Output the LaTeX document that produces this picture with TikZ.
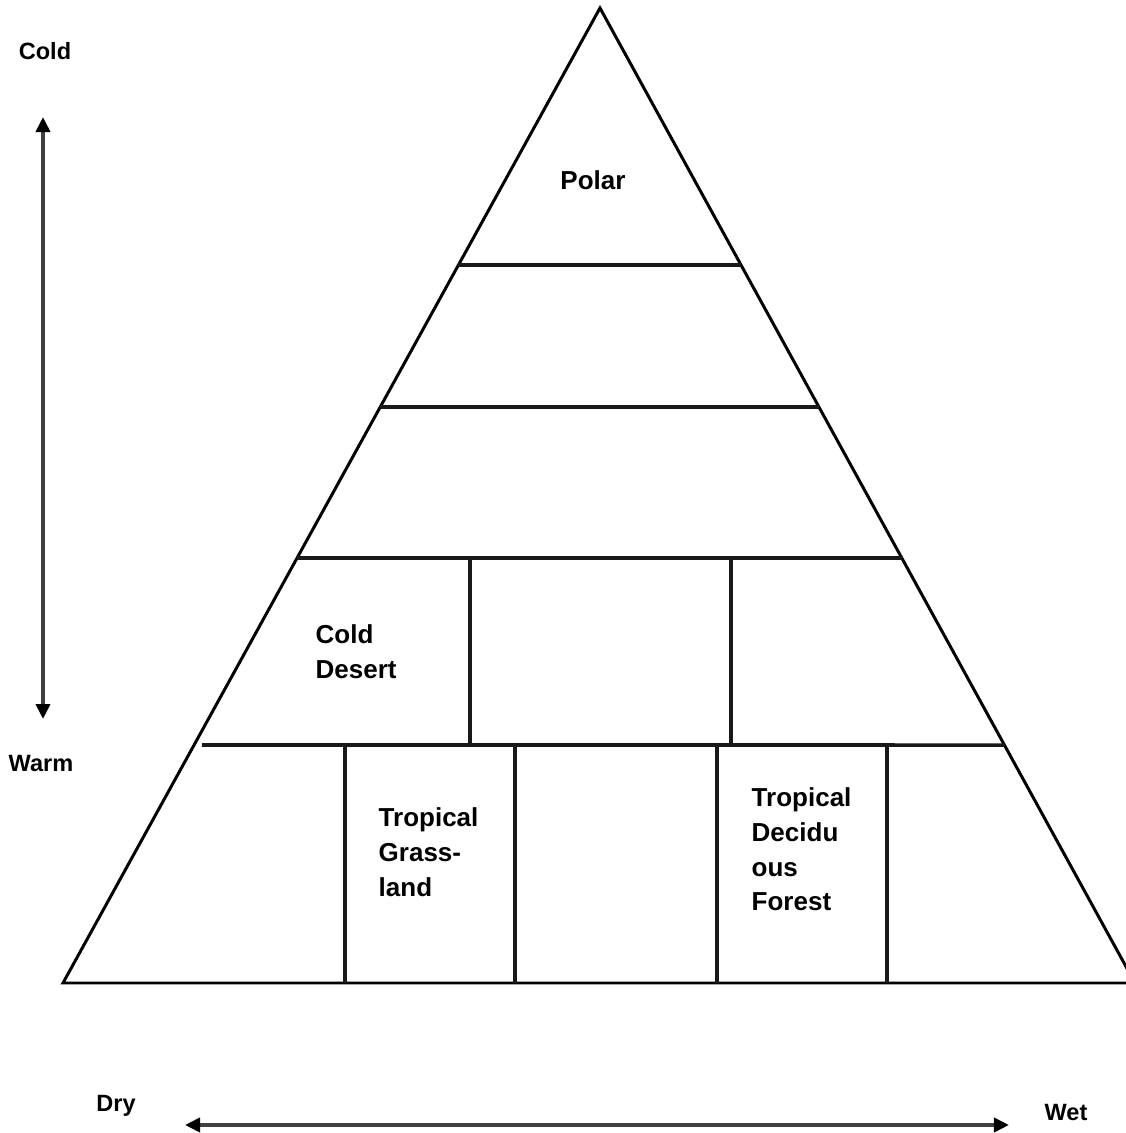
\documentclass[tikz,border=0pt]{standalone}
\usepackage{fontspec}
\setmainfont{Liberation Sans}
\usepackage{tikz}
\usetikzlibrary{calc,arrows.meta}

\begin{document}
\begin{tikzpicture}[line join=miter,
		edge/.style={line width=0.85pt},
		bar/.style={line width=1pt, color=black!90},
		axis/.style={line width=1.1pt, color=black!75, {Triangle[length=1.5mm,width=1.4mm,color=black]}-{Triangle[length=1.5mm,width=1.4mm,color=black]}},
		biome/.style={font=\fontsize{7.4}{9.9}\selectfont\bfseries, align=left, inner sep=0pt},
		axislabel/.style={font=\fontsize{6.7}{8}\selectfont\bfseries, inner sep=0pt}]
	\useasboundingbox (0,0) rectangle (11.26,11.33);

	\coordinate (T) at (6.00,11.25);
	\coordinate (L) at (0.63,1.50);
	\coordinate (R) at (11.35,1.50);

	\coordinate (L1) at ($(T)!0.2636!(L)$);
	\coordinate (R1) at ($(T)!0.2636!(R)$);
	\coordinate (L2) at ($(T)!0.4092!(L)$);
	\coordinate (R2) at ($(T)!0.4092!(R)$);
	\coordinate (L3) at ($(T)!0.5641!(L)$);
	\coordinate (R3) at ($(T)!0.5641!(R)$);
	\coordinate (L4) at (2.02,3.88);
	\coordinate (R4) at ($(T)!0.7559!(R)$);

	\draw[edge] (T) -- (L) -- (R) -- cycle;
	\draw[bar] (L1) -- (R1);
	\draw[bar] (L2) -- (R2);
	\draw[bar] (L3) -- (R3);
	\draw[bar] (L4) -- (R4);

	\foreach \x in {4.70,7.31}
		\draw[bar] (\x,5.75) -- (\x,3.88);
	\foreach \x in {3.45,5.15,7.17,8.87}
		\draw[bar] (\x,3.88) -- (\x,1.50);

	\coordinate (Up) at (0.43,10.16);
	\coordinate (Down) at (0.43,4.14);
	\coordinate (Left) at (1.85,0.08);
	\coordinate (Right) at (10.09,0.08);
	\draw[axis] (Down) -- (Up);
	\draw[axis] (Left) -- (Right);

	\node[axislabel] (cold) at (0.45,10.82) {Cold};
	\node[axislabel] (warm) at (0.41,3.69) {Warm};
	\node[axislabel] (dry) at (1.16,0.27) {Dry};
	\node[axislabel] (wet) at (10.66,0.20) {Wet};

	\node[biome] (polar) at (5.93,9.53) {Polar};
	\node[biome, anchor=west] (desert) at (3.15,4.815) {Cold\\Desert};
	\node[biome, anchor=west] (grass) at (3.78,2.81) {Tropical\\Grass-\\land};
	\node[biome, anchor=west] (forest) at (7.51,2.835) {Tropical\\Decidu\\ous\\Forest};
\end{tikzpicture}
\end{document}
